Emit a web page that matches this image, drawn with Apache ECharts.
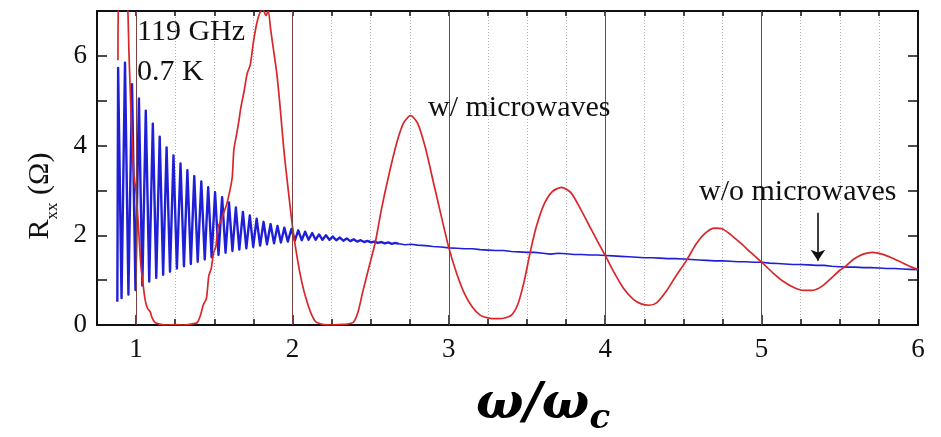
<!DOCTYPE html>
<html>
<head>
<meta charset="utf-8">
<script src="https://cdn.jsdelivr.net/npm/echarts@6/dist/echarts.min.js"></script>
<style>
  html, body { margin: 0; padding: 0; background: #fff; }
  #chart { width: 941px; height: 437px; }
</style>
</head>
<body>
<div id="chart"></div>
<script>
// Rxx versus omega/omega_c, with and without 119 GHz radiation at 0.7 K

// Without microwaves: Shubnikov-de Haas oscillations (peak / trough pairs)
const darkOscillations = [
  [0.880, 0.52], [0.885, 5.73], [0.907, 0.60], [0.929, 5.85], [0.951, 0.68], [0.974, 5.37],
  [0.996, 0.78], [1.018, 5.05], [1.040, 0.88], [1.062, 4.78], [1.084, 0.97], [1.107, 4.49],
  [1.129, 1.05], [1.151, 4.20], [1.173, 1.12], [1.195, 3.96], [1.217, 1.19], [1.239, 3.78],
  [1.261, 1.26], [1.284, 3.60], [1.306, 1.31], [1.328, 3.45], [1.350, 1.36], [1.372, 3.32],
  [1.394, 1.41], [1.417, 3.20], [1.439, 1.46], [1.461, 3.07], [1.483, 1.51], [1.505, 2.96],
  [1.527, 1.56], [1.550, 2.85], [1.572, 1.61], [1.594, 2.73], [1.616, 1.65], [1.638, 2.62],
  [1.660, 1.68], [1.683, 2.52], [1.705, 1.71], [1.727, 2.44], [1.749, 1.74], [1.771, 2.37],
  [1.793, 1.77], [1.815, 2.30], [1.837, 1.80], [1.860, 2.25], [1.882, 1.82], [1.904, 2.21],
  [1.926, 1.84], [1.948, 2.17], [1.970, 1.86], [1.993, 2.14], [2.015, 1.88], [2.037, 2.11],
  [2.059, 1.89], [2.081, 2.08], [2.103, 1.90], [2.126, 2.05], [2.148, 1.90], [2.170, 2.02],
  [2.192, 1.90], [2.214, 2.00], [2.236, 1.90], [2.258, 1.97], [2.280, 1.89], [2.303, 1.95],
  [2.325, 1.88], [2.347, 1.93], [2.369, 1.87], [2.391, 1.91], [2.413, 1.86], [2.436, 1.89],
  [2.458, 1.85], [2.480, 1.875], [2.502, 1.84], [2.524, 1.86], [2.546, 1.83], [2.569, 1.85],
  [2.591, 1.82], [2.613, 1.84], [2.635, 1.81], [2.657, 1.83], [2.680, 1.81]
];

// Without microwaves: slowly falling background at larger omega/omega_c
const darkTail = [
  [2.68, 1.81], [2.72, 1.79], [2.76, 1.80], [2.80, 1.78], [2.85, 1.77], [2.90, 1.75],
  [2.95, 1.74], [3.00, 1.72], [3.05, 1.71], [3.10, 1.70], [3.15, 1.70], [3.20, 1.68],
  [3.25, 1.67], [3.30, 1.66], [3.35, 1.66], [3.40, 1.64], [3.45, 1.63], [3.50, 1.62],
  [3.55, 1.62], [3.60, 1.60], [3.65, 1.58], [3.70, 1.60], [3.75, 1.59], [3.80, 1.57],
  [3.85, 1.57], [3.90, 1.56], [3.95, 1.56], [4.00, 1.55], [4.05, 1.54], [4.10, 1.53],
  [4.15, 1.52], [4.20, 1.51], [4.25, 1.50], [4.30, 1.50], [4.35, 1.49], [4.40, 1.48],
  [4.45, 1.48], [4.50, 1.47], [4.55, 1.46], [4.60, 1.45], [4.65, 1.44], [4.70, 1.43],
  [4.75, 1.43], [4.80, 1.42], [4.85, 1.41], [4.90, 1.41], [4.95, 1.40], [5.00, 1.40],
  [5.05, 1.38], [5.10, 1.37], [5.15, 1.36], [5.20, 1.35], [5.25, 1.35], [5.30, 1.34],
  [5.35, 1.33], [5.40, 1.33], [5.45, 1.31], [5.50, 1.30], [5.55, 1.29], [5.60, 1.29],
  [5.65, 1.28], [5.70, 1.28], [5.75, 1.27], [5.80, 1.26], [5.85, 1.26], [5.90, 1.25],
  [5.95, 1.24], [6.00, 1.23]
];

// With microwaves: zero-resistance states near 1.25 and 2.25, MIRO maxima/minima beyond
const irradiatedTrace = [
  [0.884, 5.90], [0.890, 7.50], [0.915, 7.80], [0.940, 7.60], [0.955, 6.00], [0.970, 4.50],
  [0.985, 3.40], [1.000, 2.95], [1.015, 2.20], [1.030, 1.35], [1.045, 0.90], [1.055, 0.62],
  [1.065, 0.45], [1.075, 0.36], [1.090, 0.30], [1.100, 0.18], [1.120, 0.06], [1.150, 0.02],
  [1.200, 0.00], [1.250, 0.01], [1.300, 0.00], [1.350, 0.02], [1.390, 0.05], [1.410, 0.20],
  [1.430, 0.45], [1.450, 0.60], [1.465, 1.10], [1.480, 1.25], [1.495, 1.60], [1.510, 1.75],
  [1.525, 2.20], [1.540, 2.30], [1.560, 2.50], [1.580, 2.70], [1.600, 3.00], [1.615, 3.30],
  [1.625, 3.90], [1.640, 4.20], [1.655, 4.50], [1.670, 4.85], [1.690, 5.20], [1.710, 5.60],
  [1.730, 5.80], [1.750, 6.30], [1.770, 6.70], [1.790, 6.95], [1.810, 7.05], [1.830, 6.90],
  [1.845, 7.00], [1.860, 6.60], [1.880, 6.10], [1.900, 5.60], [1.920, 4.90], [1.945, 3.90],
  [1.970, 3.10], [2.000, 2.20], [2.030, 1.50], [2.060, 0.95], [2.090, 0.55], [2.120, 0.25],
  [2.150, 0.07], [2.200, 0.01], [2.250, 0.00], [2.300, 0.01], [2.350, 0.02], [2.390, 0.06],
  [2.420, 0.30], [2.450, 0.75], [2.490, 1.30], [2.530, 1.85], [2.570, 2.60], [2.620, 3.40],
  [2.670, 4.10], [2.710, 4.50], [2.755, 4.67], [2.800, 4.50], [2.850, 3.95], [2.900, 3.20],
  [2.950, 2.45], [3.000, 1.72], [3.050, 1.15], [3.100, 0.70], [3.150, 0.40], [3.200, 0.22],
  [3.250, 0.16], [3.300, 0.14], [3.350, 0.15], [3.400, 0.22], [3.440, 0.45], [3.480, 0.95],
  [3.520, 1.62], [3.560, 2.20], [3.610, 2.70], [3.660, 2.97], [3.720, 3.07], [3.780, 2.95],
  [3.840, 2.60], [3.900, 2.20], [3.950, 1.87], [4.000, 1.55], [4.060, 1.15], [4.120, 0.80],
  [4.180, 0.57], [4.230, 0.47], [4.280, 0.44], [4.330, 0.50], [4.390, 0.75], [4.450, 1.08],
  [4.520, 1.44], [4.580, 1.80], [4.640, 2.05], [4.700, 2.16], [4.750, 2.14], [4.800, 2.02],
  [4.860, 1.84], [4.930, 1.62], [5.000, 1.40], [5.070, 1.17], [5.140, 0.97], [5.210, 0.83],
  [5.270, 0.77], [5.320, 0.77], [5.380, 0.85], [5.440, 1.03], [5.500, 1.22], [5.530, 1.29],
  [5.590, 1.47], [5.650, 1.58], [5.710, 1.62], [5.770, 1.58], [5.830, 1.50], [5.900, 1.39],
  [5.960, 1.29], [6.000, 1.24]
];

// Axis ranges and tick positions
const xRange = [0.75, 6];
const yRange = [0, 7];
const xLabelTicks = [1, 2, 3, 4, 5, 6];
const yLabelTicks = [0, 2, 4, 6];
const integerGuides = [1, 2, 3, 4, 5];

// Arrow pointing to the dark curve: [x, yStart] -> [x, yEnd]
const arrowFrom = [5.36, 2.50];
const arrowTo = [5.36, 1.43];

const SERIF = '"Liberation Serif", "Times New Roman", serif';
const MATH = '"DejaVu Serif", serif';

const chart = echarts.init(document.getElementById('chart'), null, { renderer: 'canvas' });

const tickFont = { fontFamily: SERIF, fontSize: 27, color: '#111' };
const blue = '#1f1fd8';

chart.setOption({
  animation: false,
  backgroundColor: '#fff',
  grid: { left: 97, right: 23, top: 11, bottom: 112, containLabel: false },
  xAxis: [
    {
      type: 'value', position: 'bottom', min: xRange[0], max: xRange[1], interval: 0.25,
      axisLine: { show: true, onZero: false, lineStyle: { color: '#111', width: 2 } },
      axisTick: { show: true, inside: true, length: 6, lineStyle: { color: '#111', width: 1.5 } },
      axisLabel: { show: true, customValues: xLabelTicks, margin: 11, ...tickFont },
      splitLine: { show: true, lineStyle: { color: '#aeb3bd', width: 1, type: [1, 2] } }
    },
    {
      type: 'value', position: 'bottom', min: xRange[0], max: xRange[1], interval: 0.25,
      axisLine: { show: false, onZero: false },
      axisTick: { show: true, inside: true, length: 10, customValues: xLabelTicks, lineStyle: { color: '#111', width: 1.5 } },
      axisLabel: { show: false },
      splitLine: { show: false }
    },
    {
      type: 'value', position: 'top', min: xRange[0], max: xRange[1], interval: 0.25,
      axisLine: { show: true, onZero: false, lineStyle: { color: '#111', width: 2 } },
      axisTick: { show: true, inside: true, length: 5, lineStyle: { color: '#111', width: 1.5 } },
      axisLabel: { show: false },
      splitLine: { show: false }
    }
  ],
  yAxis: [
    {
      type: 'value', position: 'left', min: yRange[0], max: yRange[1], interval: 1,
      axisLine: { show: true, onZero: false, lineStyle: { color: '#111', width: 2 } },
      axisTick: { show: true, inside: true, length: 10, lineStyle: { color: '#111', width: 1.5 } },
      axisLabel: { show: true, customValues: yLabelTicks, margin: 10, ...tickFont },
      splitLine: { show: false }
    },
    {
      type: 'value', position: 'right', min: yRange[0], max: yRange[1], interval: 1,
      axisLine: { show: true, onZero: false, lineStyle: { color: '#111', width: 2 } },
      axisTick: { show: true, inside: true, length: 10, lineStyle: { color: '#111', width: 1.5 } },
      axisLabel: { show: false },
      splitLine: { show: false }
    }
  ],
  series: [
    {
      // integer guide lines
      type: 'line', data: [], silent: true, z: 1,
      markLine: {
        silent: true, symbol: ['none', 'none'], label: { show: false },
        lineStyle: { color: '#7a4242', width: 1, type: 'solid' },
        data: integerGuides.map(v => ({ xAxis: v }))
      }
    },
    {
      name: 'w/o microwaves', type: 'line', data: darkOscillations, showSymbol: false, z: 3,
      lineStyle: { color: blue, width: 2.4, join: 'round' }, clip: true
    },
    {
      name: 'w/o microwaves', type: 'line', data: darkTail, showSymbol: false, z: 3,
      lineStyle: { color: blue, width: 1.6 }, clip: true
    },
    {
      name: 'w/ microwaves', type: 'line', data: irradiatedTrace, showSymbol: false, z: 4,
      smooth: 0.25,
      lineStyle: { color: '#d8262a', width: 1.7 }, clip: true
    },
    {
      type: 'line', data: [], silent: true, z: 5,
      markLine: {
        silent: true, symbol: ['none', 'arrow'], symbolSize: 11, label: { show: false },
        lineStyle: { color: '#111', width: 1.6, type: 'solid' },
        data: [[{ coord: arrowFrom }, { coord: arrowTo }]]
      }
    }
  ],
  graphic: [
    {
      type: 'text', left: 137, top: 17, z: 10,
      style: { text: '119 GHz', font: '30px ' + SERIF, fill: '#111' }
    },
    {
      type: 'text', left: 137, top: 57, z: 10,
      style: { text: '0.7 K', font: '30px ' + SERIF, fill: '#111' }
    },
    {
      type: 'text', left: 428, top: 93, z: 10,
      style: { text: 'w/ microwaves', font: '30px ' + SERIF, fill: '#111' }
    },
    {
      type: 'text', left: 699, top: 177, z: 10,
      style: { text: 'w/o microwaves', font: '30px ' + SERIF, fill: '#111' }
    },
    {
      type: 'text', x: 40, y: 196, rotation: Math.PI / 2, z: 10,
      style: {
        text: '{r|R}{s|xx}{r| (Ω)}', align: 'center', verticalAlign: 'middle',
        rich: {
          r: { font: '30px ' + SERIF, fill: '#111', verticalAlign: 'bottom' },
          s: { font: '17px ' + SERIF, fill: '#111', verticalAlign: 'bottom', padding: [0, 0, -6, 0] }
        }
      }
    },
    {
      type: 'text', x: 543, y: 405, z: 10,
      style: {
        text: '{m|ω/ω}{c|c}', align: 'center', verticalAlign: 'middle',
        rich: {
          m: { font: 'italic bold 50px ' + MATH, fill: '#000', verticalAlign: 'bottom' },
          c: { font: 'italic bold 34px ' + MATH, fill: '#000', verticalAlign: 'bottom', padding: [0, 0, -6, 0] }
        }
      }
    }
  ]
});
</script>
</body>
</html>
